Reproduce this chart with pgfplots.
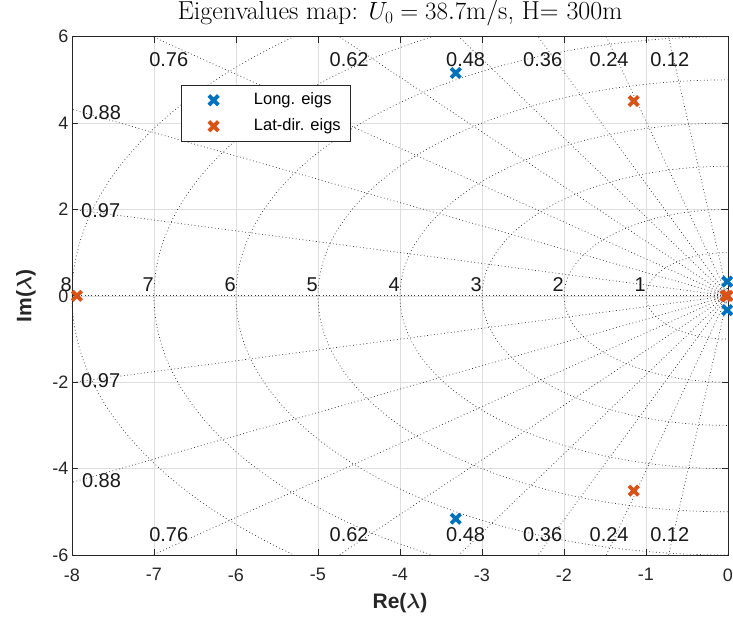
\documentclass[border=0pt]{standalone}
\usepackage{fontspec}
\usepackage{pgfplots}
\pgfplotsset{compat=1.18}
\newfontfamily\hv{Liberation Sans}
\definecolor{mblue}{RGB}{0,114,189}
\definecolor{morange}{RGB}{217,83,25}
\tikzset{sgrid/.style={color=black!80, line width=0.7pt, dash pattern=on 0.8pt off 2.6pt}}
\begin{document}
\begin{tikzpicture}
\begin{axis}[
  scale only axis, width=656pt, height=518.3pt,
  xmin=-8, xmax=0, ymin=-6, ymax=6,
  xtick={-8,-7,...,0}, ytick={-6,-4,...,6},
  clip=false,
  grid=major, major grid style={color=black!13, line width=0.6pt},
  axis line style={color=black!85, line width=0.8pt},
  tick style={color=black!85, line width=0.8pt},
  tick align=inside, major tick length=6pt,
  ticklabel style={font=\hv\fontsize{18}{20}\selectfont, color=black!85},
  xticklabel style={yshift=-10pt},
  /pgf/number format/assume math mode=true,
  xlabel={Re($\lambda$)}, ylabel={Im($\lambda$)},
  label style={font=\hv\bfseries\boldmath\fontsize{21}{24}\selectfont, color=black!85},
  xlabel style={at={(axis description cs:0.5,-0.0926)}, anchor=center},
  ylabel style={at={(axis description cs:-0.0701,0.5)}, anchor=center},
  title={Eigenvalues map: $U_0=38.7$m/s, H= 300m},
  title style={at={(axis description cs:0.5,1)}, anchor=base, yshift=11pt, font=\fontsize{26}{28}\selectfont, inner sep=0pt},
  legend style={at={(axis description cs:0.1662,0.9068)}, anchor=north west, draw=black!85, line width=0.6pt, fill=white,
    font=\hv\fontsize{16.5}{19}\selectfont, inner xsep=10pt, inner ysep=7pt, row sep=10pt,
    nodes={inner sep=0pt, text height=12pt, text depth=4pt}},
  legend cell align=left,
  legend image code/.code={\path (-22pt,0pt) (40pt,0pt); \draw[#1] plot coordinates {(0pt,0pt)};},
]
\begin{scope}
\clip (rel axis cs:0,0) rectangle (rel axis cs:1,1);
\pgfplotsinvokeforeach{0.12,0.24,0.36,0.48,0.62,0.76,0.88,0.97}{
  \draw[sgrid] (axis cs:0,0) -- (axis cs:{-12*#1},{12*sqrt(1-#1*#1)});
  \draw[sgrid] (axis cs:0,0) -- (axis cs:{-12*#1},{-12*sqrt(1-#1*#1)});
}
\draw[sgrid] (axis cs:0,0) -- (axis cs:-12,0);
\pgfplotsinvokeforeach{1,2,3,4,5,6,7,8,0.13,0.17}{
  \draw[sgrid] (axis cs:0,0) ellipse [x radius=#1, y radius=#1];
}
\end{scope}
\begin{scope}[every node/.style={font=\hv\fontsize{20}{22}\selectfont, inner sep=0pt, text=black!90}]
\node at (axis cs:-6.82,5.47) {0.76};
\node at (axis cs:-4.62,5.47) {0.62};
\node at (axis cs:-3.2,5.47) {0.48};
\node at (axis cs:-2.26,5.47) {0.36};
\node at (axis cs:-1.45,5.47) {0.24};
\node at (axis cs:-0.71,5.47) {0.12};
\node at (axis cs:-6.82,-5.52) {0.76};
\node at (axis cs:-4.62,-5.52) {0.62};
\node at (axis cs:-3.2,-5.52) {0.48};
\node at (axis cs:-2.26,-5.52) {0.36};
\node at (axis cs:-1.45,-5.52) {0.24};
\node at (axis cs:-0.71,-5.52) {0.12};
\node[anchor=west] at (axis cs:-7.88,4.25) {0.88};
\node[anchor=west] at (axis cs:-7.88,-4.27) {0.88};
\node[anchor=west] at (axis cs:-7.89,1.97) {0.97};
\node[anchor=west] at (axis cs:-7.89,-1.97) {0.97};
\node[anchor=south east] at (axis cs:-8,0.1) {8};
\node[anchor=south east] at (axis cs:-7,0.1) {7};
\node[anchor=south east] at (axis cs:-6,0.1) {6};
\node[anchor=south east] at (axis cs:-5,0.1) {5};
\node[anchor=south east] at (axis cs:-4,0.1) {4};
\node[anchor=south east] at (axis cs:-3,0.1) {3};
\node[anchor=south east] at (axis cs:-2,0.1) {2};
\node[anchor=south east] at (axis cs:-1,0.1) {1};
\end{scope}
\addplot[only marks, mark=x, mark size=6.7pt, color=mblue, mark options={line width=3.8pt}]
  coordinates {(-3.32,5.16) (-3.32,-5.16) (-0.01,0.33) (-0.01,-0.33)};
\addlegendentry{Long. eigs}
\addplot[only marks, mark=x, mark size=6.7pt, color=morange, mark options={line width=3.8pt}]
  coordinates {(-1.15,4.51) (-1.15,-4.51) (-7.94,0) (-0.03,0) (-0.005,0)};
\addlegendentry{Lat-dir. eigs}
\end{axis}
\pgfresetboundingbox
\path[use as bounding box] (-72pt,-68pt) rectangle (661pt,555pt);
\end{tikzpicture}
\end{document}
